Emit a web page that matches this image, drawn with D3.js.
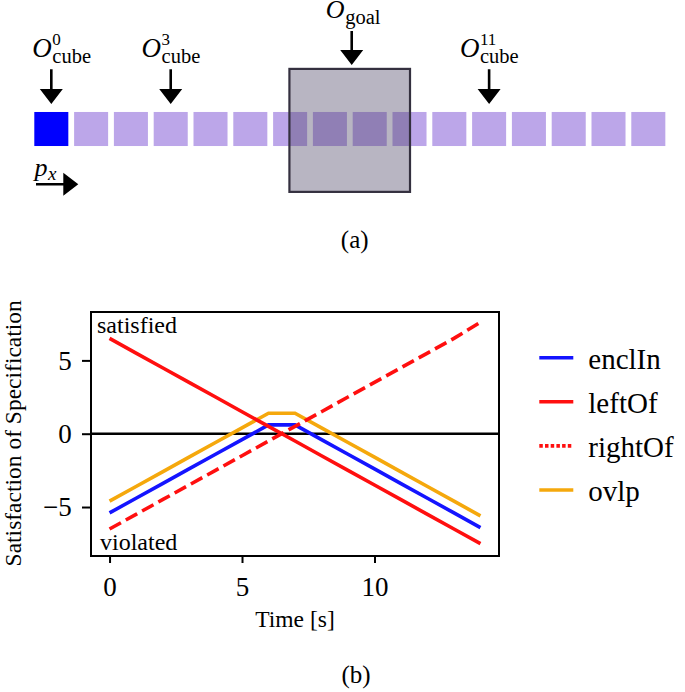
<!DOCTYPE html>
<html>
<head>
<meta charset="utf-8">
<script src="https://cdn.jsdelivr.net/npm/d3@7"></script>
<style>
  html, body { margin: 0; padding: 0; background: #fff; }
  svg { display: block; }
  text { font-family: "Liberation Serif", "Times New Roman", serif; fill: #000; }
</style>
</head>
<body>
<svg id="chart" width="685" height="692"></svg>
<script>
// ---------------- data ----------------
const time = [0, 1, 2, 3, 4, 5, 6, 7, 8, 9, 10, 11, 12, 13, 14];
const enclIn = [-5.4, -4.4, -3.4, -2.4, -1.4, -0.4, 0.6, 0.6, -0.4, -1.4, -2.4, -3.4, -4.4, -5.4, -6.4];
const leftOf = [6.5, 5.5, 4.5, 3.5, 2.5, 1.5, 0.5, -0.5, -1.5, -2.5, -3.5, -4.5, -5.5, -6.5, -7.5];
const rightOf = [-6.5, -5.5, -4.5, -3.5, -2.5, -1.5, -0.5, 0.5, 1.5, 2.5, 3.5, 4.5, 5.5, 6.5, 7.6];
const ovlp = [-4.6, -3.6, -2.6, -1.6, -0.6, 0.4, 1.4, 1.4, 0.4, -0.6, -1.6, -2.6, -3.6, -4.6, -5.6];
const xTicks = [0, 5, 10];
const yTicks = [-5, 0, 5];
const legendLabels = ["enclIn", "leftOf", "rightOf", "ovlp"];

// top diagram (a): cube positions along p_x (in cube-pitch units)
const cubePositions = [0, 1, 2, 3, 4, 5, 6, 7, 8, 9, 10, 11, 12, 13, 14, 15];
const labeledCubes = [0, 3, 11];
const goalX = [6.41, 9.44];
const goalY = [-1.51, 1.58];

// ---------------- drawing ----------------
const svg = d3.select("#chart");

// ---- panel (a) ----
const cubeSize = 0.855;
const px = d3.scaleLinear().domain([0, 1]).range([34.3, 74.1]);
const py = d3.scaleLinear().domain([0, 1]).range([129, 168.8]);
const topG = svg.append("g");

topG.selectAll("rect.cube").data(cubePositions).join("rect")
  .attr("class", "cube")
  .attr("x", d => px(d))
  .attr("y", py(-cubeSize / 2))
  .attr("width", px(cubeSize) - px(0))
  .attr("height", py(cubeSize) - py(0))
  .attr("fill", d => d === 0 ? "#0000ff" : "#9370db")
  .attr("fill-opacity", d => d === 0 ? 1 : 0.62);

topG.append("rect")
  .attr("x", px(goalX[0])).attr("y", py(goalY[0]))
  .attr("width", px(goalX[1]) - px(goalX[0]))
  .attr("height", py(goalY[1]) - py(goalY[0]))
  .attr("fill", "rgb(77,70,102)").attr("fill-opacity", 0.4)
  .attr("stroke", "#34303f").attr("stroke-width", 2.2);

function downArrow(cx, y0, y1) {
  const hw = 11.5, hl = 15, sw = 1.3;
  const p = d3.path();
  p.moveTo(cx - sw, y0); p.lineTo(cx + sw, y0); p.lineTo(cx + sw, y1 - hl);
  p.lineTo(cx + hw, y1 - hl); p.lineTo(cx, y1); p.lineTo(cx - hw, y1 - hl);
  p.lineTo(cx - sw, y1 - hl); p.closePath();
  topG.append("path").attr("d", p.toString()).attr("fill", "#000");
}
function rightArrow(x0, x1, cy) {
  const hw = 11.5, hl = 15, sw = 1.3;
  const p = d3.path();
  p.moveTo(x0, cy - sw); p.lineTo(x1 - hl, cy - sw); p.lineTo(x1 - hl, cy - hw);
  p.lineTo(x1, cy); p.lineTo(x1 - hl, cy + hw); p.lineTo(x1 - hl, cy + sw);
  p.lineTo(x0, cy + sw); p.closePath();
  topG.append("path").attr("d", p.toString()).attr("fill", "#000");
}

// measure helper
function measure(str, size, italic) {
  const t = svg.append("text").attr("font-size", size)
    .attr("font-style", italic ? "italic" : null).text(str);
  const w = t.node().getComputedTextLength();
  t.remove();
  return w;
}

// one text element: main letter + superscript + subscript stacked
function mathLabel(cx, anchor, baseY, main, sup, sub, mainSize, subSize, supSize, subDrop, supRise) {
  const w = measure(main, mainSize, true);
  const wSup = sup ? measure(sup, supSize, false) : 0;
  const wSub = sub ? measure(sub, subSize, false) : 0;
  const total = w + Math.max(wSup, wSub);
  const x0 = anchor === "middle" ? cx - total / 2 : cx;
  const t = topG.append("text").attr("x", x0).attr("y", baseY);
  t.append("tspan").attr("font-style", "italic").attr("font-size", mainSize).text(main);
  let curDy = 0;
  if (sup) {
    t.append("tspan").attr("font-size", supSize).attr("dx", 0.5).attr("dy", -supRise).text(sup);
    curDy = -supRise;
  }
  if (sub) {
    t.append("tspan").attr("font-size", subSize)
      .attr("dx", sup ? -wSup : 0.8)
      .attr("dy", subDrop - curDy).text(sub);
  }
}

labeledCubes.forEach(i => {
  const cx = px(i + cubeSize / 2);
  downArrow(cx, 69.3, 104);
  mathLabel(i === 0 ? 32.3 : cx, i === 0 ? "start" : "middle", 57.3, "O", String(i), "cube", 27, 20.5, 17, 6, 12.3);
});
{
  const gcx = px((goalX[0] + goalX[1]) / 2) + 2;
  downArrow(gcx, 31, 65);
  mathLabel(gcx + 1, "middle", 18, "O", null, "goal", 26, 20.5, 17, 5.5, 0);
}
// p_x direction arrow
rightArrow(36, 78.3, 184.3);
{
  const t = topG.append("text").attr("x", 34.5).attr("y", 176.2).attr("font-style", "italic");
  t.append("tspan").attr("font-size", 26).text("p");
  t.append("tspan").attr("font-size", 19).attr("dx", 0.5).attr("dy", 3.8).text("x");
}
svg.append("text").attr("x", 354.7).attr("y", 248.3).attr("text-anchor", "middle")
  .attr("font-size", 25).text("(a)");

// ---- panel (b) ----
const frame = { left: 91, right: 499, top: 312, bottom: 556 };
const x = d3.scaleLinear().domain([-0.7, 14.7]).range([frame.left, frame.right]);
const y = d3.scaleLinear().domain([-8.34, 8.3]).range([frame.bottom, frame.top]);
const plot = svg.append("g");

// zero line
plot.append("line")
  .attr("x1", frame.left).attr("x2", frame.right)
  .attr("y1", y(0)).attr("y2", y(0))
  .attr("stroke", "#000").attr("stroke-width", 2.4);

const line = d3.line().x((d, i) => x(time[i])).y(d => y(d));
const series = [
  { name: "ovlp", values: ovlp, color: "#f5a80c", dash: null },
  { name: "enclIn", values: enclIn, color: "#1414ff", dash: null },
  { name: "leftOf", values: leftOf, color: "#ff0f0f", dash: null },
  { name: "rightOf", values: rightOf, color: "#ff0f0f", dash: "13,5.6" }
];
series.forEach(s => {
  plot.append("path").datum(s.values)
    .attr("d", line)
    .attr("fill", "none")
    .attr("stroke", s.color)
    .attr("stroke-width", 3.6)
    .attr("stroke-linejoin", "miter")
    .attr("stroke-dasharray", s.dash);
});

// frame
plot.append("rect")
  .attr("x", frame.left).attr("y", frame.top)
  .attr("width", frame.right - frame.left).attr("height", frame.bottom - frame.top)
  .attr("fill", "none").attr("stroke", "#000").attr("stroke-width", 2);

// axes
const xAxis = d3.axisBottom(x).tickValues(xTicks).tickSize(7).tickSizeOuter(0).tickPadding(14);
const gx = plot.append("g").attr("transform", `translate(0,${frame.bottom})`).call(xAxis);
const yAxis = d3.axisLeft(y).tickValues(yTicks).tickSize(9).tickSizeOuter(0).tickPadding(10.3);
const gy = plot.append("g").attr("transform", `translate(${frame.left},0)`).call(yAxis);
[gx, gy].forEach(g => {
  g.select(".domain").remove();
  g.selectAll(".tick line").attr("stroke", "#000").attr("stroke-width", 2);
  g.selectAll(".tick text").attr("font-family", "Liberation Serif, serif").attr("font-size", 27).attr("fill", "#000");
});

// annotations
plot.append("text").attr("x", 97).attr("y", 332.7).attr("font-size", 24).text("satisfied");
plot.append("text").attr("x", 100).attr("y", 550).attr("font-size", 24).text("violated");

// axis labels
plot.append("text").attr("x", (frame.left + frame.right) / 2).attr("y", 626.5)
  .attr("text-anchor", "middle").attr("font-size", 23.5).text("Time [s]");
plot.append("text")
  .attr("transform", `translate(20.8,433.3) rotate(-90)`)
  .attr("text-anchor", "middle").attr("font-size", 23.5).text("Satisfaction of Specification");

// legend
const legendColor = { enclIn: "#1414ff", leftOf: "#ff0f0f", rightOf: "#ff0f0f", ovlp: "#f5a80c" };
const legendDash = { rightOf: "3.5,2.2" };
const ly = d3.scalePoint().domain(legendLabels).range([357.7, 490]);
const lg = svg.append("g");
legendLabels.forEach(name => {
  lg.append("line")
    .attr("x1", 539.3).attr("x2", 573.3)
    .attr("y1", ly(name)).attr("y2", ly(name))
    .attr("stroke", legendColor[name]).attr("stroke-width", 3.6)
    .attr("stroke-dasharray", legendDash[name] || null);
  lg.append("text").attr("x", 588.3).attr("y", ly(name) + 11.4)
    .attr("font-size", 29).text(name);
});

svg.append("text").attr("x", 356).attr("y", 683).attr("text-anchor", "middle")
  .attr("font-size", 25).text("(b)");
</script>
</body>
</html>
